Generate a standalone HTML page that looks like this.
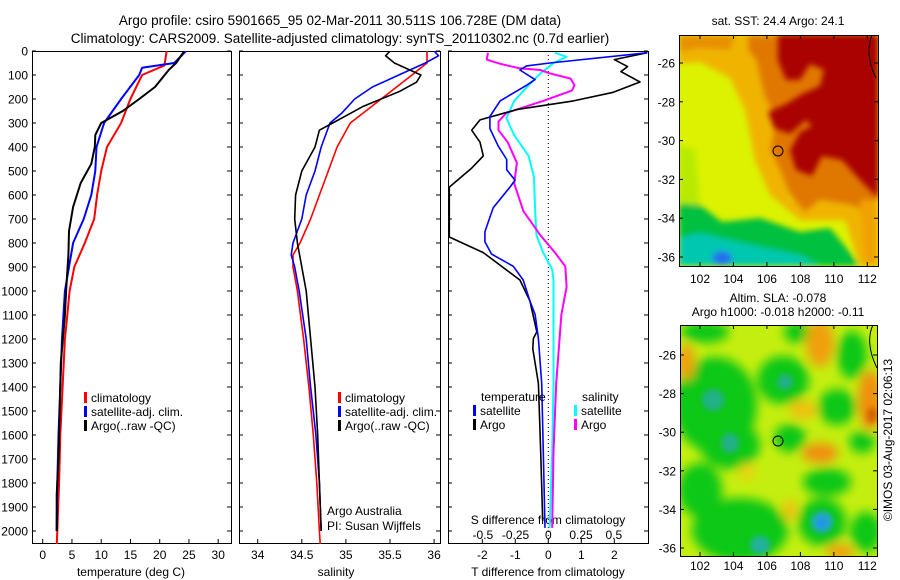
<!DOCTYPE html>
<html><head><meta charset="utf-8"><title>Argo profile</title>
<style>
html,body{margin:0;padding:0;background:#fff;}
svg{display:block;font-family:"Liberation Sans",sans-serif;}
</style></head>
<body>
<svg id="fig" width="900" height="580" viewBox="0 0 900 580" xmlns="http://www.w3.org/2000/svg">
<defs>
<clipPath id="c1"><rect x="32" y="51" width="199" height="493"/></clipPath>
<clipPath id="c2"><rect x="239" y="51" width="201" height="493"/></clipPath>
<clipPath id="c3"><rect x="448" y="51" width="200" height="493"/></clipPath>
<clipPath id="cm1"><rect x="679" y="35" width="199" height="231"/></clipPath>
<clipPath id="cm2"><rect x="680" y="325" width="197" height="231"/></clipPath>
<filter id="bl" x="-20%" y="-20%" width="140%" height="140%"><feGaussianBlur stdDeviation="3"/></filter>
<filter id="bl2" x="-50%" y="-50%" width="200%" height="200%"><feGaussianBlur stdDeviation="5"/></filter>
</defs>
<g font-size="13.5" text-anchor="middle" fill="#000">
<text x="340" y="25">Argo profile: csiro 5901665_95 02-Mar-2011 30.511S 106.728E (DM data)</text>
<text x="340" y="43">Climatology: CARS2009. Satellite-adjusted climatology: synTS_20110302.nc (0.7d earlier)</text>
</g>
<g id="axes"></g>
<g id="maps">
<g clip-path="url(#cm1)">
<rect x="679" y="35" width="199" height="231" fill="#dcf200"/>
<g filter="url(#bl)">
<polygon fill="#f0b400" points="679,35 760,35 770,80 775,130 790,200 878,190 878,266 860,266 845,220 800,220 770,195 755,160 745,110 730,78 700,62 679,64"/>
<polygon fill="#b8ea00" points="679,145 695,150 700,205 679,210"/>
<polygon fill="#e07800" points="748,35 878,35 878,215 850,205 820,200 805,212 790,195 780,170 770,150 776,120 764,95 756,60 748,50"/>
<polygon fill="#e89000" points="679,35 735,35 730,50 700,48 679,52"/>
<polygon fill="#f0a000" points="860,200 878,200 878,266 865,266"/>
<polygon fill="#00c040" points="679,203 700,205 722,222 760,218 800,232 830,228 848,250 860,266 679,266"/>
<polygon fill="#00c8b0" points="679,238 700,233 730,240 765,248 800,255 820,266 679,266"/>
<ellipse cx="722" cy="258" rx="10" ry="7" fill="#2070f0"/>
</g>
<polygon fill="#a80000" filter="url(#bl)" opacity="0.98" points="778,35 878,35 878,198 860,180 842,160 822,156 812,176 796,170 790,150 800,132 812,126 806,120 790,134 774,128 768,112 786,104 802,94 820,86 824,70 810,64 800,80 786,80 778,60"/>
<path d="M872,35 C868,45 867,60 876,78" fill="none" stroke="#000" stroke-width="1"/>
<circle cx="778" cy="151" r="5" fill="none" stroke="#000" stroke-width="1"/>
</g>
<g clip-path="url(#cm2)">
<rect x="680" y="325" width="197" height="231" fill="#c4ee10"/>
<g filter="url(#bl2)">
<ellipse cx="715" cy="405" rx="42" ry="48" fill="#10c818"/>
<ellipse cx="730" cy="445" rx="30" ry="24" fill="#10c818"/>
<ellipse cx="783" cy="380" rx="26" ry="24" fill="#10c818"/>
<ellipse cx="740" cy="530" rx="48" ry="32" fill="#10c818"/>
<ellipse cx="700" cy="490" rx="22" ry="27" fill="#10c818"/>
<ellipse cx="837" cy="407" rx="19" ry="18" fill="#10c818"/>
<ellipse cx="827" cy="482" rx="24" ry="14" fill="#10c818"/>
<ellipse cx="822" cy="522" rx="24" ry="24" fill="#10c818"/>
<ellipse cx="866" cy="532" rx="16" ry="20" fill="#10c818"/>
<ellipse cx="852" cy="355" rx="15" ry="24" fill="#10c818"/>
<ellipse cx="797" cy="332" rx="13" ry="11" fill="#10c818"/>
<ellipse cx="705" cy="332" rx="24" ry="11" fill="#10c818"/>
<ellipse cx="790" cy="438" rx="16" ry="14" fill="#10c818"/>
<ellipse cx="862" cy="442" rx="13" ry="11" fill="#10c818"/>
<ellipse cx="820" cy="343" rx="14" ry="24" fill="#f0a010"/>
<ellipse cx="686" cy="362" rx="9" ry="18" fill="#f0a010"/>
<ellipse cx="870" cy="400" rx="12" ry="30" fill="#f09010"/>
<ellipse cx="820" cy="453" rx="18" ry="10" fill="#f09010"/>
<ellipse cx="803" cy="410" rx="14" ry="9" fill="#f0c010"/>
<ellipse cx="747" cy="472" rx="8" ry="8" fill="#f0d010"/>
<ellipse cx="790" cy="510" rx="7" ry="10" fill="#f0c010"/>
<ellipse cx="840" cy="552" rx="14" ry="8" fill="#f0a010"/>
</g>
<g filter="url(#bl)">
<ellipse cx="713" cy="400" rx="11" ry="11" fill="#20b088"/>
<ellipse cx="730" cy="443" rx="9" ry="10" fill="#20b088"/>
<ellipse cx="785" cy="382" rx="8" ry="8" fill="#20b088"/>
<ellipse cx="760" cy="545" rx="10" ry="9" fill="#20b0a0"/>
<ellipse cx="822" cy="522" rx="11" ry="11" fill="#20a8c8"/>
<ellipse cx="822" cy="523" rx="5" ry="5" fill="#2090f0"/>
<ellipse cx="872" cy="415" rx="5" ry="8" fill="#d06000"/>
</g>
<path d="M873,325 C868,335 868,350 877,368" fill="none" stroke="#000" stroke-width="1"/>
<circle cx="778" cy="441" r="5" fill="none" stroke="#000" stroke-width="1"/>
</g>
</g>
<g font-size="12" text-anchor="middle" fill="#000">
<text x="778" y="25">sat. SST: 24.4  Argo: 24.1</text>
<text x="778" y="302">Altim. SLA: -0.078</text>
<text x="778" y="316">Argo h1000: -0.018  h2000: -0.11</text>
</g>
<text transform="translate(892,440) rotate(-90)" font-size="12" text-anchor="middle">©IMOS 03-Aug-2017 02:06:13</text>
<g id="plots"></g>
</svg>
<script>
// ---- data ----
var tempClimD=[0,60,100,200,300,400,500,600,700,800,900,1000,1100,1200,1400,1600,1800,2000,2060];
var tempClimV=[21.2,20.8,17,15,13.4,11,10,9.3,8.8,7.2,5.4,4.6,4.2,3.8,3.4,3.0,2.8,2.5,2.4];
var tempSatD=[0,50,70,100,200,300,400,500,600,700,800,900,1000,1200,1400,1600,1800,2000];
var tempSatV=[24.5,22.5,17,16.5,13.4,10.5,9.2,9.0,8.3,7.0,5.2,4.5,3.8,3.3,3.0,2.7,2.5,2.4];
var tempArgoD=[0,50,80,150,200,250,300,350,400,470,550,650,750,850,1000,1100,1300,1500,1700,1850,2000];
var tempArgoV=[24.2,22.8,21.5,19.2,16.5,13.7,10,9.0,8.9,8.3,6.5,5.2,4.5,4.4,4.0,3.8,3.1,2.9,2.7,2.4,2.4];
var salClimD=[0,50,70,100,200,300,400,500,600,700,800,850,900,1000,1200,1400,1600,1800,2000,2060];
var salClimV=[35.92,35.92,35.85,35.75,35.4,35.05,34.9,34.8,34.7,34.6,34.48,34.4,34.4,34.45,34.52,34.58,34.63,34.67,34.7,34.71];
var salSatD=[0,20,50,100,150,200,260,300,400,500,600,700,800,850,900,1000,1200,1400,1600,1800,2000];
var salSatV=[36.0,36.05,35.9,35.6,35.3,35.1,34.95,34.82,34.72,34.65,34.55,34.5,34.4,34.38,34.42,34.47,34.55,34.6,34.66,34.7,34.72];
var salArgoD=[0,20,50,100,130,170,230,270,300,330,400,500,600,700,800,900,1000,1200,1400,1600,1800,2000];
var salArgoV=[35.5,35.45,35.55,35.85,35.8,35.6,35.2,35.0,34.85,34.7,34.65,34.5,34.43,34.42,34.45,34.5,34.55,34.6,34.65,34.68,34.7,34.72];
var dTArgoD=[7,36,65,86,129,172,208,244,287,330,380,437,488,567,775,840,954,1040,1170,1198,1241,1385,1671,1958];
var dTArgoV=[3.0,2.0,2.4,2.2,2.78,1.97,0.76,-0.96,-2.07,-2.32,-2.07,-1.97,-2.32,-3.0,-3.0,-1.97,-0.86,-0.56,-0.35,-0.45,-0.47,-0.3,-0.23,-0.17];
var dTSatD=[7,50,62,79,119,143,208,273,323,395,452,495,538,567,653,753,795,846,897,954,1040,1098,1198,1385,1671,1987];
var dTSatV=[3.0,0.05,-0.66,-0.86,-0.4,-0.66,-1.46,-1.77,-1.77,-1.52,-1.26,-1.26,-1.01,-1.16,-1.67,-1.92,-1.92,-1.72,-1.06,-0.76,-0.56,-0.4,-0.3,-0.2,-0.15,-0.1];
var dSSatD=[7,24,50,72,93,143,208,280,351,437,524,667,768,839,911,954,1098,1385,1671,1987];
var dSSatV=[0.05,0.14,0.04,-0.01,-0.06,-0.15,-0.26,-0.32,-0.26,-0.15,-0.11,-0.1,-0.09,-0.04,0.03,0.04,0.04,0.04,0.03,0.01];
var dSArgoD=[7,36,53,72,79,93,115,143,165,208,258,294,330,380,466,552,667,768,839,897,983,1098,1241,1385,1671,1987];
var dSArgoV=[-0.46,-0.47,-0.37,-0.22,-0.06,0.01,0.17,0.2,0.18,-0.04,-0.32,-0.38,-0.38,-0.31,-0.24,-0.26,-0.19,-0.06,0.05,0.13,0.14,0.1,0.08,0.06,0.04,0.03];
var depthTicks=[0,100,200,300,400,500,600,700,800,900,1000,1100,1200,1300,1400,1500,1600,1700,1800,1900,2000];
var tempTicks=[0,5,10,15,20,25,30];
var salTicks=[34,34.5,35,35.5,36];
var dTTicks=[-2,-1,0,1,2];
var dSTicks=[-0.5,-0.25,0,0.25,0.5];
var latTicks=[-26,-28,-30,-32,-34,-36];
var lonTicks=[102,104,106,108,110,112];
// ---- scales ----
function yD(d){return 51+d*0.24;}
function xT(t){return 42.7+t*5.85;}
function xS(s){return 257.7+(s-34)*88.2;}
function xDT(t){return 548.3+t*33;}
function xDS(s){return 548.3+s*131;}
function yLat1(l){return 63+(-26-l)*19.4;}
function yLat2(l){return 355+(-26-l)*19.3;}
function xLon(l){return 700+(l-102)*16.73;}
var NS="http://www.w3.org/2000/svg";
var plots=document.getElementById('plots');
function mk(tag,attrs,parent){var e=document.createElementNS(NS,tag);for(var k in attrs)e.setAttribute(k,attrs[k]);(parent||plots).appendChild(e);return e;}
function txt(x,y,s,anchor,size,parent){var e=mk('text',{x:x,y:y,'font-size':size||12,'text-anchor':anchor||'start'},parent);e.textContent=s;return e;}
function line(D,V,xf,color,w,clip,name){
  var p=[];for(var i=0;i<D.length;i++)p.push(xf(V[i]).toFixed(1)+','+yD(D[i]).toFixed(1));
  var e=mk('polyline',{points:p.join(' '),fill:'none',stroke:color,'stroke-width':w,'clip-path':'url(#'+clip+')','stroke-linejoin':'round'});
  
  
}
function frame(x,y,w,h,name){var e=mk('rect',{x:x,y:y,width:w,height:h,fill:'none',stroke:'#000','stroke-width':1});
  
  }
function legendEntry(x,y,color,label,name){
  var g=mk('g',{});
  
  
  mk('rect',{x:x,y:y-10,width:3,height:11,fill:color},g);
  txt(x+7,y,label,'start',12,g);
}
var panels=[[32,199,'temperature-panel'],[239,201,'salinity-panel'],[448,200,'difference-panel']];
panels.forEach(function(p){
  frame(p[0]+0.5,51.5,p[1],492,p[2]);
  depthTicks.forEach(function(d){
    mk('line',{x1:p[0],x2:p[0]+4,y1:yD(d),y2:yD(d),stroke:'#000'});
    mk('line',{x1:p[0]+p[1]-4,x2:p[0]+p[1],y1:yD(d),y2:yD(d),stroke:'#000'});
  });
});
depthTicks.forEach(function(d){var t=txt(28,yD(d)+4.5,String(d),'end',12);
  
  });
tempTicks.forEach(function(v){mk('line',{x1:xT(v),x2:xT(v),y1:539,y2:544,stroke:'#000'});
  var t=txt(xT(v),559,String(v),'middle',12);
  
  });
salTicks.forEach(function(v){mk('line',{x1:xS(v),x2:xS(v),y1:539,y2:544,stroke:'#000'});
  var t=txt(xS(v),559,String(v),'middle',12);
  
  });
dTTicks.forEach(function(v){mk('line',{x1:xDT(v),x2:xDT(v),y1:539,y2:544,stroke:'#000'});
  var t=txt(xDT(v),559,String(v),'middle',12);
  
  });
dSTicks.forEach(function(v){var t=txt(xDS(v),539,String(v),'middle',12);
  
  });
var a1=txt(131,576,'temperature (deg C)','middle',12);


var a2=txt(336,576,'salinity','middle',12);


var a3=txt(548,576,'T difference from climatology','middle',12);


var a4=txt(548,524,'S difference from climatology','middle',12);


mk('line',{x1:xDT(0),x2:xDT(0),y1:51,y2:544,stroke:'#000','stroke-dasharray':'1,3'});
line(tempClimD,tempClimV,xT,'#f00',2,'c1','temp-climatology-line');
line(tempSatD,tempSatV,xT,'#00f',2,'c1','temp-satellite-line');
line(tempArgoD,tempArgoV,xT,'#000',2,'c1','temp-argo-line');
line(salClimD,salClimV,xS,'#f00',1.6,'c2','sal-climatology-line');
line(salSatD,salSatV,xS,'#00f',1.6,'c2','sal-satellite-line');
line(salArgoD,salArgoV,xS,'#000',1.6,'c2','sal-argo-line');
line(dSSatD,dSSatV,xDS,'#0ff',2,'c3','s-diff-satellite-line');
line(dSArgoD,dSArgoV,xDS,'#f0f',2,'c3','s-diff-argo-line');
line(dTArgoD,dTArgoV,xDT,'#000',1.6,'c3','t-diff-argo-line');
line(dTSatD,dTSatV,xDT,'#00f',1.6,'c3','t-diff-satellite-line');
legendEntry(84,402,'#f00','climatology','legend-temp-climatology');
legendEntry(84,416,'#00f','satellite-adj. clim.','legend-temp-satellite');
legendEntry(84,430,'#000','Argo(..raw -QC)','legend-temp-argo');
legendEntry(338,402,'#f00','climatology','legend-sal-climatology');
legendEntry(338,416,'#00f','satellite-adj. clim.','legend-sal-satellite');
legendEntry(338,430,'#000','Argo(..raw -QC)','legend-sal-argo');
var lt=txt(481,401,'temperature','start',12);


var ls=txt(582,401,'salinity','start',12);


legendEntry(473,415,'#00f','satellite','legend-tdiff-satellite');
legendEntry(473,429,'#000','Argo','legend-tdiff-argo');
legendEntry(574,415,'#0ff','satellite','legend-sdiff-satellite');
legendEntry(574,429,'#f0f','Argo','legend-sdiff-argo');
var c1=txt(327,515,'Argo Australia','start',12);


var c2=txt(327,530,'PI: Susan Wijffels','start',12);


[[679,35,199,231,yLat1,266,283,'sst-map-frame'],[680,325,197,231,yLat2,556,570,'sla-map-frame']].forEach(function(m){
  frame(m[0]+0.5,m[1]+0.5,m[2],m[3],m[7]);
  latTicks.forEach(function(l){var y=m[4](l);
    mk('line',{x1:m[0],x2:m[0]+4,y1:y,y2:y,stroke:'#000'});
    mk('line',{x1:m[0]+m[2]-4,x2:m[0]+m[2],y1:y,y2:y,stroke:'#000'});
    var t=txt(m[0]-4,y+4.5,String(l),'end',12);
    
    });
  lonTicks.forEach(function(l){var x=xLon(l);
    mk('line',{x1:x,x2:x,y1:m[5]-4,y2:m[5],stroke:'#000'});
    mk('line',{x1:x,x2:x,y1:m[1],y2:m[1]+4,stroke:'#000'});
    var t=txt(x,m[6],String(l),'middle',12);
    
    });
});
</script>
</body></html>
